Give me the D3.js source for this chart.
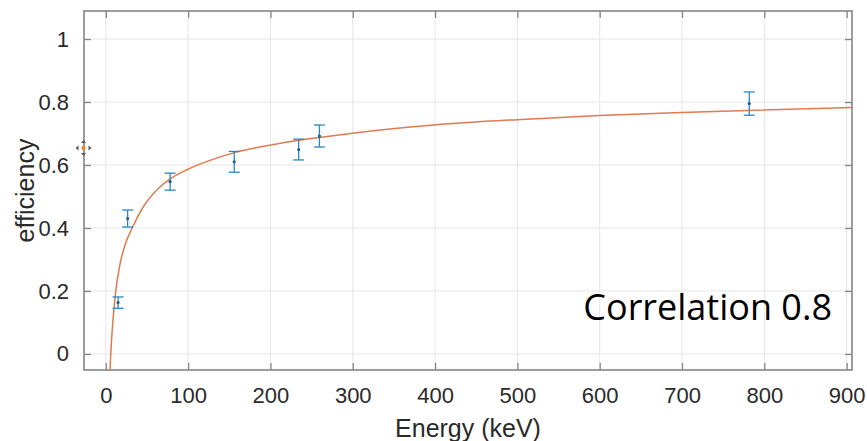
<!DOCTYPE html>
<html>
<head>
<meta charset="utf-8">
<script src="https://cdn.jsdelivr.net/npm/d3@7"></script>
<style>
  body { margin: 0; background: #fff; }
  svg { display: block; }
</style>
</head>
<body>
<div id="pageContent"></div>
<script>
// measured points (energy in keV, efficiency, +/- error)
var energy = [14.9, 26.5, 78.1, 156.0, 234.3, 259.5, 781.7];
var efficiency = [0.163, 0.430, 0.547, 0.610, 0.649, 0.692, 0.795];
var errors = [0.018, 0.027, 0.027, 0.033, 0.033, 0.035, 0.037];

// fitted curve
var fitEnergy = [5.1, 6.0, 8.0, 9.0, 12.1, 17.0, 24.0, 32.0, 45.0, 64.0, 78.2, 98.5, 124.8,
    157.3, 203.9, 236.4, 299.7, 398.7, 499.3, 599.5, 699.0, 908.0];
var fitEfficiency = [-0.051, 0.0, 0.083, 0.117, 0.2, 0.282, 0.351, 0.4, 0.465, 0.526, 0.556, 0.585, 0.613,
    0.64, 0.665, 0.679, 0.701, 0.727, 0.744, 0.757, 0.767, 0.783];

var xTicks = [0, 100, 200, 300, 400, 500, 600, 700, 800, 900];
var yTicks = [0, 0.2, 0.4, 0.6, 0.8, 1];

var width = 867, height = 441;
// plot box edges (note: "top" is a reserved global in browsers)
var boxLeft = 84, boxRight = 852, boxTop = 11, boxBottom = 370;

var svg = d3.select("#pageContent").append("svg")
    .attr("width", width)
    .attr("height", height);

var x = d3.scaleLinear().domain([-26.5, 906.5]).range([boxLeft, boxRight]);
var y = d3.scaleLinear().domain([-0.051, 1.089]).range([boxBottom, boxTop]);

svg.append("clipPath").attr("id", "plotClip")
    .append("rect")
    .attr("x", boxLeft).attr("y", boxTop)
    .attr("width", boxRight - boxLeft).attr("height", boxBottom - boxTop);

// grid lines
svg.append("g").selectAll("line").data(xTicks)
    .enter().append("line")
    .attr("x1", function(d) { return x(d); })
    .attr("x2", function(d) { return x(d); })
    .attr("y1", boxTop).attr("y2", boxBottom)
    .attr("stroke", "#e6e6e6").attr("stroke-width", 1);

svg.append("g").selectAll("line").data(yTicks)
    .enter().append("line")
    .attr("y1", function(d) { return y(d); })
    .attr("y2", function(d) { return y(d); })
    .attr("x1", boxLeft).attr("x2", boxRight)
    .attr("stroke", "#e6e6e6").attr("stroke-width", 1);

// axes with inward ticks on all four sides
var tickLen = 7;
var axisColor = "#858585";
var tickFont = "22px 'Liberation Sans', Arial, sans-serif";

var xBottom = svg.append("g").attr("transform", "translate(0," + boxBottom + ")")
    .call(d3.axisBottom(x).tickValues(xTicks).tickSizeInner(-tickLen).tickSizeOuter(0).tickPadding(17)
        .tickFormat(d3.format("d")));
var xTop = svg.append("g").attr("transform", "translate(0," + boxTop + ")")
    .call(d3.axisTop(x).tickValues(xTicks).tickSizeInner(-tickLen).tickSizeOuter(0).tickFormat(""));
var yLeft = svg.append("g").attr("transform", "translate(" + boxLeft + ",0)")
    .call(d3.axisLeft(y).tickValues(yTicks).tickSizeInner(-tickLen).tickSizeOuter(0).tickPadding(15)
        .tickFormat(function(d) { return d === 0 || d === 1 ? d : d.toFixed(1); }));
var yRight = svg.append("g").attr("transform", "translate(" + boxRight + ",0)")
    .call(d3.axisRight(y).tickValues(yTicks).tickSizeInner(-tickLen).tickSizeOuter(0).tickFormat(""));

[xBottom, xTop, yLeft, yRight].forEach(function(g) {
    g.select(".domain").remove();
    g.selectAll(".tick line").attr("stroke", axisColor).attr("stroke-width", 1.3);
    g.selectAll(".tick text").style("font", tickFont).attr("fill", "#2a2a2a");
});

svg.append("rect")
    .attr("x", boxLeft).attr("y", boxTop)
    .attr("width", boxRight - boxLeft).attr("height", boxBottom - boxTop)
    .attr("fill", "none").attr("stroke", axisColor).attr("stroke-width", 1.6);

// fitted curve
var fitData = fitEnergy.map(function(e, i) { return [e, fitEfficiency[i]]; });
var line = d3.line()
    .x(function(d) { return x(d[0]); })
    .y(function(d) { return y(d[1]); })
    .curve(d3.curveMonotoneX);

svg.append("path")
    .datum(fitData)
    .attr("clip-path", "url(#plotClip)")
    .attr("d", line)
    .attr("fill", "none")
    .attr("stroke", "#e07a4f")
    .attr("stroke-width", 1.5);

// error bars
var blue = "#2a86c6";
var capW = 5.5;
var bars = svg.append("g").selectAll("g").data(energy)
    .enter().append("g");

bars.append("line")
    .attr("x1", function(d) { return x(d); })
    .attr("x2", function(d) { return x(d); })
    .attr("y1", function(d, i) { return y(efficiency[i] - errors[i]); })
    .attr("y2", function(d, i) { return y(efficiency[i] + errors[i]); })
    .attr("stroke", blue).attr("stroke-width", 1.3);

bars.append("line")
    .attr("x1", function(d) { return x(d) - capW; })
    .attr("x2", function(d) { return x(d) + capW; })
    .attr("y1", function(d, i) { return y(efficiency[i] + errors[i]); })
    .attr("y2", function(d, i) { return y(efficiency[i] + errors[i]); })
    .attr("stroke", blue).attr("stroke-width", 1.3);

bars.append("line")
    .attr("x1", function(d) { return x(d) - capW; })
    .attr("x2", function(d) { return x(d) + capW; })
    .attr("y1", function(d, i) { return y(efficiency[i] - errors[i]); })
    .attr("y2", function(d, i) { return y(efficiency[i] - errors[i]); })
    .attr("stroke", blue).attr("stroke-width", 1.3);

bars.append("circle")
    .attr("cx", function(d) { return x(d); })
    .attr("cy", function(d, i) { return y(efficiency[i]); })
    .attr("r", 1.6)
    .attr("fill", "#1f5f8f");

// little data cursor marker sitting on the y axis
var cx = boxLeft - 0.5, cy = 148;
var cursor = svg.append("g").attr("transform", "translate(" + cx + "," + cy + ")");
cursor.selectAll("path").data([0, 90, 180, 270])
    .enter().append("path")
    .attr("d", "M5,-2.5L8,0L5,2.5Z")
    .attr("transform", function(d) { return "rotate(" + d + ")"; })
    .attr("fill", "#555");
cursor.append("circle").attr("r", 2.2).attr("fill", "#e8892c");

// labels
svg.append("text")
    .attr("x", (boxLeft + boxRight) / 2)
    .attr("y", 437)
    .attr("text-anchor", "middle")
    .style("font", "25px 'Liberation Sans', Arial, sans-serif")
    .attr("fill", "#2a2a2a")
    .text("Energy (keV)");

svg.append("text")
    .attr("transform", "translate(34," + ((boxTop + boxBottom) / 2) + ") rotate(-90)")
    .attr("text-anchor", "middle")
    .style("font", "25px 'Liberation Sans', Arial, sans-serif")
    .attr("fill", "#2a2a2a")
    .text("efficiency");

svg.append("text")
    .attr("x", 832)
    .attr("y", 320)
    .attr("text-anchor", "end")
    .style("font", "36px 'Open Sans', 'Noto Sans', sans-serif")
    .attr("fill", "#000")
    .text("Correlation 0.8");
</script>
</body>
</html>
